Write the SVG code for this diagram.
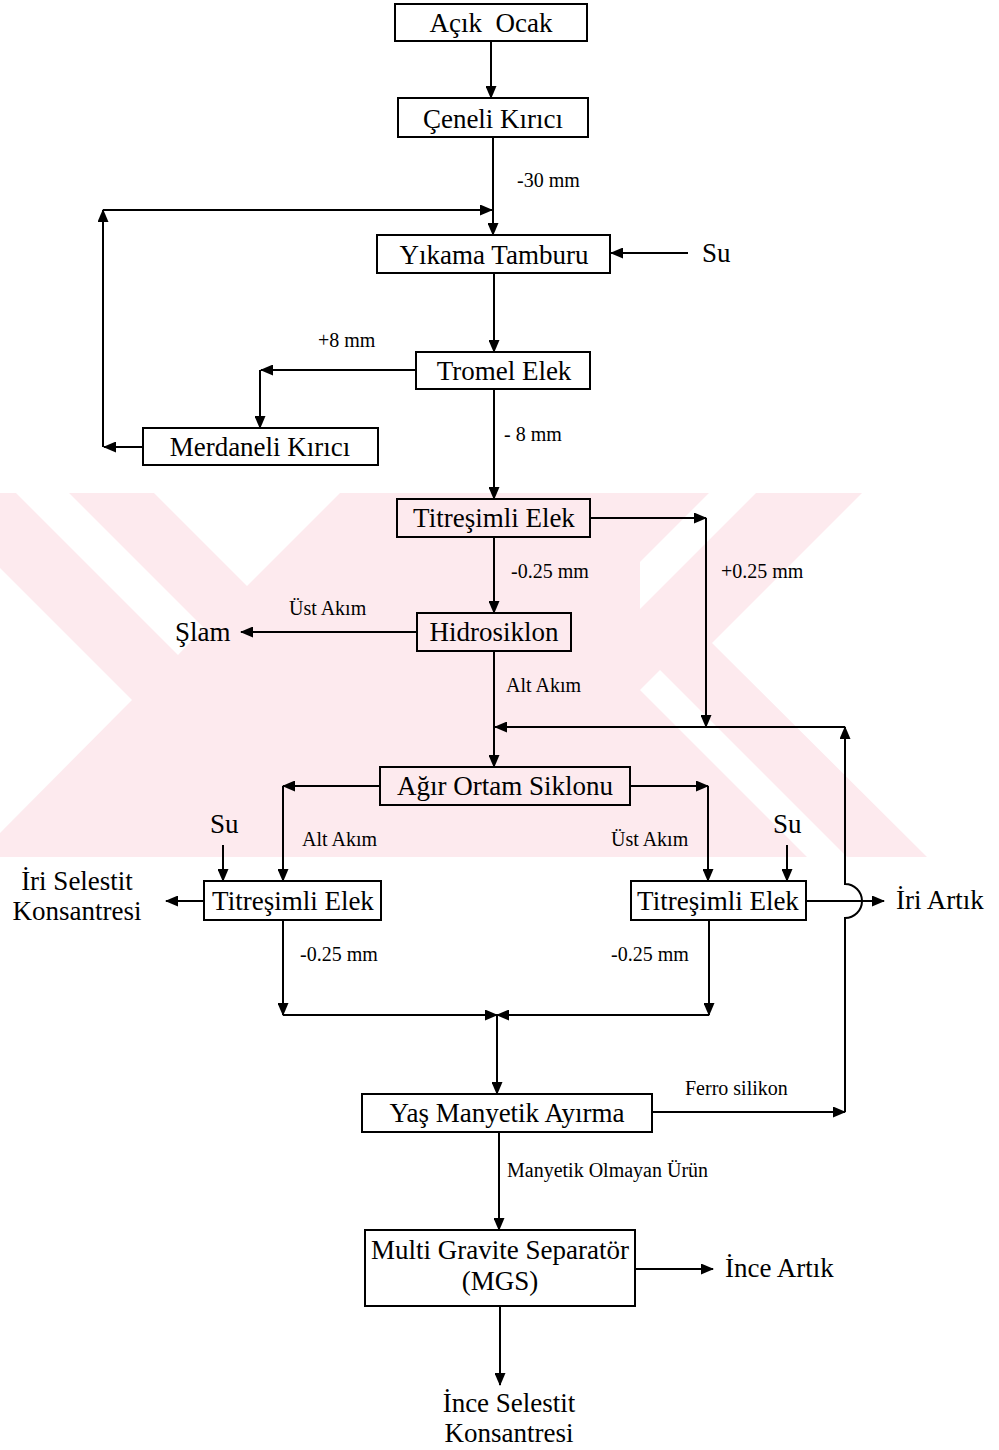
<svg xmlns="http://www.w3.org/2000/svg" width="999" height="1450" viewBox="0 0 999 1450">
<defs>
<marker id="ah" markerWidth="13" markerHeight="11" refX="12" refY="5.5" orient="auto" markerUnits="userSpaceOnUse"><path d="M0,0 L13,5.5 L0,11 z" fill="#000"/></marker>
<style>
.box{fill:none;stroke:#000;stroke-width:2}
.c{fill:none;stroke:#000;stroke-width:2;marker-end:url(#ah)}
.t{font-family:"Liberation Serif","Times New Roman",serif;font-size:27px;fill:#000}
.m{text-anchor:middle}
.s{font-family:"Liberation Serif","Times New Roman",serif;font-size:20px;fill:#000}
.wm{fill:#fdeaee}
.wh{fill:#fff}
</style>
</defs>
<rect width="999" height="1450" fill="#fff"/>
<g id="watermark">
<polygon class="wm" points="0,493 862,493 712,643 927,857 0,857"/>
<polygon class="wh" points="0,568 132,700 0,833"/>
<polygon class="wh" points="16,493 69,493 204,628 178,655"/>
<polygon class="wh" points="154,493 340,493 247,586"/>
<polygon class="wh" points="709,493 756,493 640,609 640,562"/>
<polygon class="wh" points="640,690 660,670 847,857 807,857"/>
</g>
<g id="connectors">
<line class="c" x1="491" y1="41" x2="491" y2="98"/>
<line class="c" x1="493" y1="137" x2="493" y2="235"/>
<line class="c" x1="143" y1="447" x2="104" y2="447"/>
<line class="c" x1="103" y1="447" x2="103" y2="210"/>
<line class="c" x1="103" y1="210" x2="492" y2="210"/>
<line class="c" x1="688" y1="253" x2="611" y2="253"/>
<line class="c" x1="494" y1="273" x2="494" y2="352"/>
<line class="c" x1="416" y1="370" x2="261" y2="370"/>
<line class="c" x1="260" y1="370" x2="260" y2="428"/>
<line class="c" x1="494" y1="389" x2="494" y2="499"/>
<line class="c" x1="590" y1="518" x2="706" y2="518"/>
<line class="c" x1="706" y1="518" x2="706" y2="727"/>
<line class="c" x1="494" y1="537" x2="494" y2="613"/>
<line class="c" x1="417" y1="632" x2="241" y2="632"/>
<line class="c" x1="494" y1="651" x2="494" y2="767"/>
<line class="c" x1="845" y1="727" x2="495" y2="727"/>
<path class="c" d="M845,1112 V918 A17,17 0 0,0 845,884 V727"/>
<line class="c" x1="380" y1="786" x2="283" y2="786"/>
<line class="c" x1="283" y1="786" x2="283" y2="881"/>
<line class="c" x1="630" y1="786" x2="708" y2="786"/>
<line class="c" x1="708" y1="786" x2="708" y2="881"/>
<line class="c" x1="223" y1="845" x2="223" y2="881"/>
<line class="c" x1="787" y1="845" x2="787" y2="881"/>
<line class="c" x1="204" y1="901" x2="166" y2="901"/>
<line class="c" x1="806" y1="901" x2="884" y2="901"/>
<line class="c" x1="283" y1="920" x2="283" y2="1015"/>
<line class="c" x1="709" y1="920" x2="709" y2="1015"/>
<line class="c" x1="283" y1="1015" x2="497" y2="1015"/>
<line class="c" x1="709" y1="1015" x2="497" y2="1015"/>
<line class="c" x1="497" y1="1015" x2="497" y2="1094"/>
<line class="c" x1="652" y1="1112" x2="845" y2="1112"/>
<line class="c" x1="499" y1="1132" x2="499" y2="1230"/>
<line class="c" x1="635" y1="1269" x2="713" y2="1269"/>
<line class="c" x1="500" y1="1306" x2="500" y2="1385"/>
</g>
<g id="labels">
<text class="s" x="517" y="187">-30 mm</text>
<text class="s" x="318" y="347">+8 mm</text>
<text class="s" x="504" y="441">- 8 mm</text>
<text class="s" x="511" y="578">-0.25 mm</text>
<text class="s" x="721" y="578">+0.25 mm</text>
<text class="s" x="289" y="615">Üst Akım</text>
<text class="s" x="506" y="692">Alt Akım</text>
<text class="s" x="302" y="846">Alt Akım</text>
<text class="s" x="611" y="846">Üst Akım</text>
<text class="s" x="300" y="961">-0.25 mm</text>
<text class="s" x="611" y="961">-0.25 mm</text>
<text class="s" x="685" y="1095">Ferro silikon</text>
<text class="s" x="507" y="1177">Manyetik Olmayan Ürün</text>
</g>
<g id="acik-ocak"><rect class="box" x="395" y="4" width="192" height="37"/><text class="t m" x="491" y="32" xml:space="preserve">Açık  Ocak</text></g>
<g id="ceneli-kirici"><rect class="box" x="398" y="98" width="190" height="39"/><text class="t m" x="493" y="128">Çeneli Kırıcı</text></g>
<g id="yikama-tamburu"><rect class="box" x="377" y="235" width="233" height="38"/><text class="t m" x="494" y="264">Yıkama Tamburu</text></g>
<g id="su-1"><text class="t" x="702" y="262">Su</text></g>
<g id="tromel-elek"><rect class="box" x="416" y="352" width="174" height="37"/><text class="t m" x="504" y="380">Tromel Elek</text></g>
<g id="merdaneli-kirici"><rect class="box" x="143" y="428" width="235" height="37"/><text class="t m" x="260" y="456">Merdaneli Kırıcı</text></g>
<g id="titresimli-elek-1"><rect class="box" x="397" y="499" width="193" height="38"/><text class="t m" x="494" y="527">Titreşimli Elek</text></g>
<g id="hidrosiklon"><rect class="box" x="417" y="613" width="154" height="38"/><text class="t m" x="494" y="641">Hidrosiklon</text></g>
<g id="slam"><text class="t" x="175" y="641">Şlam</text></g>
<g id="agir-ortam-siklonu"><rect class="box" x="380" y="767" width="250" height="38"/><text class="t m" x="505" y="795">Ağır Ortam Siklonu</text></g>
<g id="su-2"><text class="t" x="210" y="833">Su</text></g>
<g id="su-3"><text class="t" x="773" y="833">Su</text></g>
<g id="titresimli-elek-2"><rect class="box" x="204" y="881" width="177" height="39"/><text class="t m" x="293" y="910">Titreşimli Elek</text></g>
<g id="titresimli-elek-3"><rect class="box" x="631" y="881" width="175" height="39"/><text class="t m" x="718" y="910">Titreşimli Elek</text></g>
<g id="iri-selestit"><text class="t m" x="77" y="890">İri Selestit</text><text class="t m" x="77" y="920">Konsantresi</text></g>
<g id="iri-artik"><text class="t" x="896" y="909">İri Artık</text></g>
<g id="yas-manyetik"><rect class="box" x="362" y="1094" width="290" height="38"/><text class="t m" x="507" y="1122">Yaş Manyetik Ayırma</text></g>
<g id="mgs"><rect class="box" x="365" y="1230" width="270" height="76"/><text class="t m" x="500" y="1259">Multi Gravite Separatör</text><text class="t m" x="500" y="1290">(MGS)</text></g>
<g id="ince-artik"><text class="t" x="725" y="1277">İnce Artık</text></g>
<g id="ince-selestit"><text class="t m" x="509" y="1412">İnce Selestit</text><text class="t m" x="509" y="1442">Konsantresi</text></g>
</svg>
